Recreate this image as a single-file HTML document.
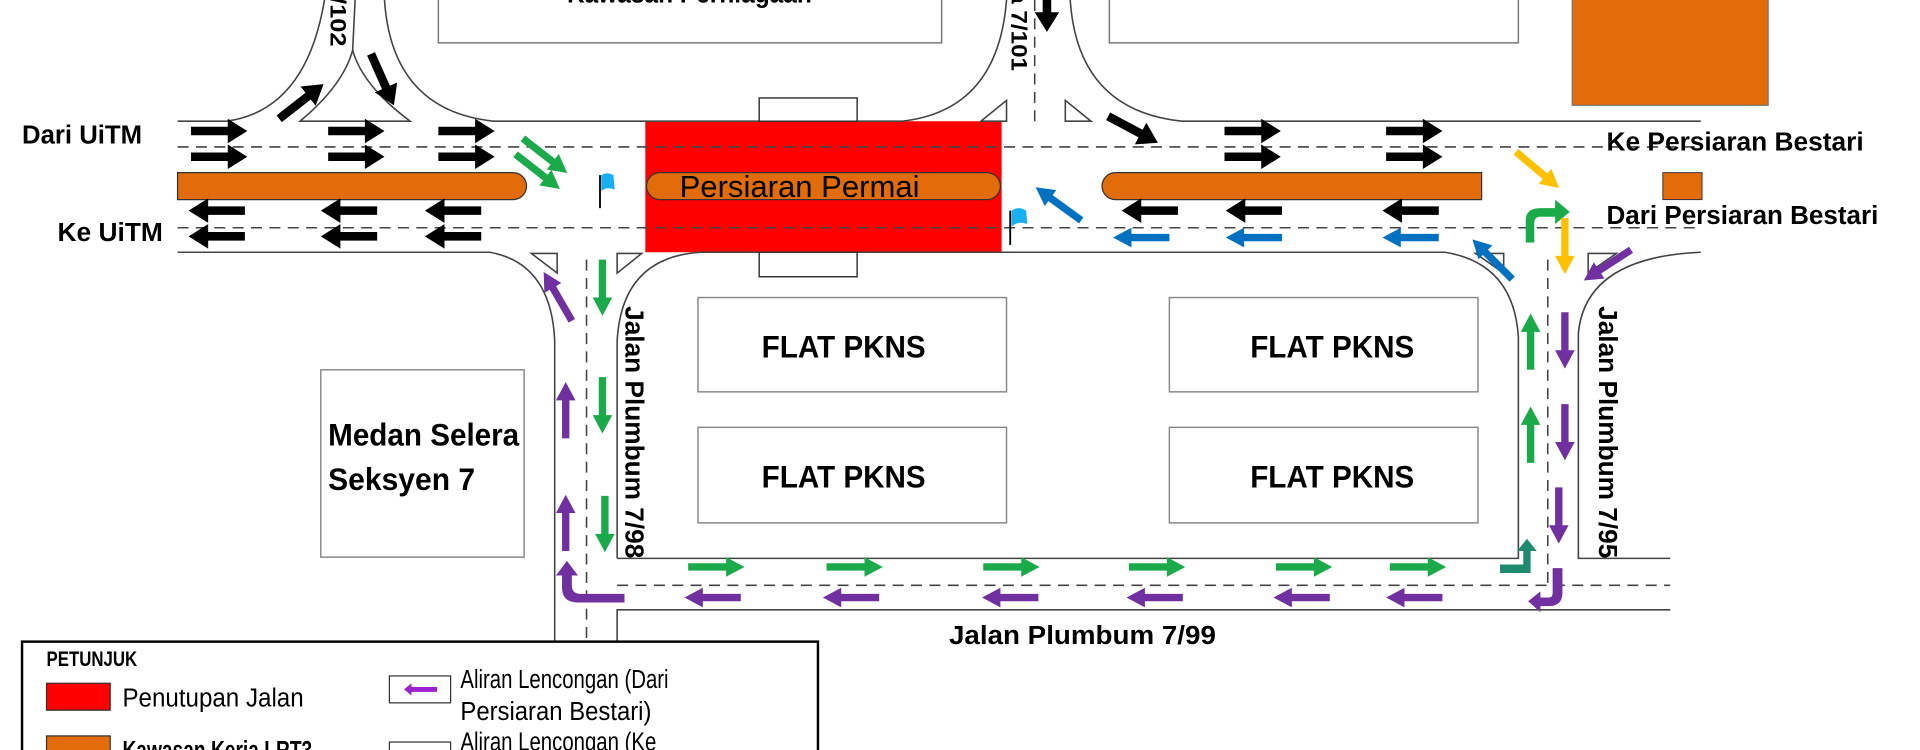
<!DOCTYPE html>
<html><head><meta charset="utf-8"><style>
html,body{margin:0;padding:0;background:#fff;}
svg{display:block;}
text{font-family:"Liberation Sans",sans-serif;font-weight:bold;fill:#000;}
</style></head><body>
<svg width="1920" height="750" viewBox="0 0 1568 612.5" preserveAspectRatio="none" xmlns="http://www.w3.org/2000/svg">
<defs>
<path id="ab" d="M0,-3.5 L30,-3.5 L30,-10 L46,0 L30,10 L30,3.5 L0,3.5Z"/>
<path id="ac" d="M0,-3 L31,-3 L31,-8 L46,0 L31,8 L31,3 L0,3Z"/>
</defs>
<rect width="1568" height="612.5" fill="#fff"/>
<rect x="358" y="-5" width="411" height="40" fill="#fff" stroke="#777" stroke-width="1.2"/>
<text x="563" y="2" font-size="22" text-anchor="middle" textLength="200" lengthAdjust="spacingAndGlyphs">Kawasan Perniagaan</text>
<rect x="906" y="-5" width="334" height="40" fill="#fff" stroke="#777" stroke-width="1.2"/>
<rect x="1284" y="-5" width="160" height="91" fill="#e36c0a" stroke="#777" stroke-width="1"/>
<rect x="527" y="99" width="291" height="107" fill="#ff0000"/>
<g fill="none" stroke="#444" stroke-width="1.3">
<path d="M145,99 L185,99 Q250,90 265,0"/>
<path d="M245,99 Q280,70 288,41 Q296,70 335,99 Z"/>
<path d="M288,41 L290,0"/>
<path d="M314,0 Q320,90 403,99 L737,99 Q815,90 822,0"/>
<path d="M874,0 Q880,90 965,99 L1389,99"/>
<path d="M145,206 L400,206 Q450,215 453,278 L453,612"/>
<path d="M504,612 L504,498 L1364,498"/>
<path d="M504,456 L504,278 Q508,210 572,206 L1180,206 Q1236,215 1240,275 L1240,456 L504,456"/>
<path d="M1389,206 Q1295,210 1289,272 L1289,456 L1364,456"/>
<path d="M801,99 L822,82 L822,99Z M870,82 L891,99 L870,99Z"/>
<path d="M434,207 L455,207 L455,223Z M524,207 L504,207 L504,223Z"/>
<path d="M1205,207 L1228,207 L1228,223Z M1320,207 L1297,207 L1297,223Z"/>
</g>
<g fill="none" stroke="#444" stroke-width="1.3" stroke-dasharray="9,6">
<path d="M145,120 L1389,120"/><path d="M145,186 L1389,186"/>
<path d="M845,0 L845,99"/>
<path d="M479,212 L479,612"/>
<path d="M1264,212 L1264,478"/>
<path d="M504,478 L1364,478"/>
</g>
<rect x="620" y="80" width="80" height="19" fill="#fff" stroke="#333" stroke-width="1.2"/>
<rect x="620" y="206" width="80" height="20" fill="#fff" stroke="#333" stroke-width="1.2"/>
<path d="M145,141 L419,141 A11,11 0 0 1 419,163 L145,163Z" fill="#e36c0a" stroke="#333" stroke-width="1"/>
<rect x="528" y="141" width="289" height="22" rx="11" fill="#e36c0a" stroke="#333" stroke-width="1"/>
<text x="555" y="161" font-size="25" style="font-weight:normal" textLength="196" lengthAdjust="spacingAndGlyphs">Persiaran Permai</text>
<path d="M1210,141 L911,141 A11,11 0 0 0 911,163 L1210,163Z" fill="#e36c0a" stroke="#333" stroke-width="1"/>
<rect x="1358" y="141" width="32" height="22" fill="#e36c0a" stroke="#333" stroke-width="0.8"/>
<g fill="#fff" stroke="#888" stroke-width="1.2">
<rect x="570" y="243" width="252" height="77"/><rect x="570" y="349" width="252" height="78"/>
<rect x="955" y="243" width="252" height="77"/><rect x="955" y="349" width="252" height="78"/>
<rect x="262" y="302" width="166" height="153"/>
</g>
<g font-size="26" text-anchor="middle">
<text x="689" y="292" textLength="134" lengthAdjust="spacingAndGlyphs">FLAT PKNS</text>
<text x="689" y="398" textLength="134" lengthAdjust="spacingAndGlyphs">FLAT PKNS</text>
<text x="1088" y="292" textLength="134" lengthAdjust="spacingAndGlyphs">FLAT PKNS</text>
<text x="1088" y="398" textLength="134" lengthAdjust="spacingAndGlyphs">FLAT PKNS</text>
</g>
<text x="268" y="364" font-size="26" textLength="156" lengthAdjust="spacingAndGlyphs">Medan Selera</text>
<text x="268" y="400" font-size="26" textLength="120" lengthAdjust="spacingAndGlyphs">Seksyen 7</text>
<g font-size="21">
<text x="18" y="117" textLength="98" lengthAdjust="spacingAndGlyphs">Dari UiTM</text>
<text x="47" y="197" textLength="86" lengthAdjust="spacingAndGlyphs">Ke UiTM</text>
<text x="1312" y="123" textLength="210" lengthAdjust="spacingAndGlyphs">Ke Persiaran Bestari</text>
<text x="1312" y="183" textLength="222" lengthAdjust="spacingAndGlyphs">Dari Persiaran Bestari</text>
<text x="775" y="526" textLength="218" lengthAdjust="spacingAndGlyphs">Jalan Plumbum 7/99</text>
<text transform="translate(511,250) rotate(90)" textLength="206" lengthAdjust="spacingAndGlyphs">Jalan Plumbum 7/98</text>
<text transform="translate(1306,250) rotate(90)" textLength="206" lengthAdjust="spacingAndGlyphs">Jalan Plumbum 7/95</text>
<text transform="translate(270,-14) rotate(90)" font-size="18" textLength="52" lengthAdjust="spacingAndGlyphs">7/102</text>
<text transform="translate(826,-8) rotate(90)" font-size="18" textLength="66" lengthAdjust="spacingAndGlyphs">a 7/101</text>
</g>
<g fill="#000">
<use href="#ab" transform="translate(156,107)"/><use href="#ab" transform="translate(156,128)"/>
<use href="#ab" transform="translate(268,107)"/><use href="#ab" transform="translate(268,128)"/>
<use href="#ab" transform="translate(358,107)"/><use href="#ab" transform="translate(358,128)"/>
<use href="#ab" transform="translate(1000,107)"/><use href="#ab" transform="translate(1000,128)"/>
<use href="#ab" transform="translate(1132,107)"/><use href="#ab" transform="translate(1132,128)"/>
<use href="#ab" transform="translate(200,172) rotate(180)"/><use href="#ab" transform="translate(200,193) rotate(180)"/>
<use href="#ab" transform="translate(308,172) rotate(180)"/><use href="#ab" transform="translate(308,193) rotate(180)"/>
<use href="#ab" transform="translate(393,172) rotate(180)"/><use href="#ab" transform="translate(393,193) rotate(180)"/>
<use href="#ab" transform="translate(962,172) rotate(180)"/>
<use href="#ab" transform="translate(1047,172) rotate(180)"/>
<use href="#ab" transform="translate(1175,172) rotate(180)"/>
<use href="#ab" transform="translate(228,97) rotate(-38)"/>
<use href="#ab" transform="translate(303,44) rotate(66)"/>
<use href="#ab" transform="translate(855,-20) rotate(90)"/>
<use href="#ab" transform="translate(905,95) rotate(28)"/>
</g>
<g fill="#0070c0">
<use href="#ac" transform="translate(955,194) rotate(180)"/>
<use href="#ac" transform="translate(1047,194) rotate(180)"/>
<use href="#ac" transform="translate(1175,194) rotate(180)"/>
<use href="#ac" transform="translate(883,180) rotate(-144)"/>
<use href="#ac" transform="translate(1235,228) rotate(-135)"/>
</g>
<g fill="#1aaa4a">
<use href="#ac" transform="translate(427,113) rotate(38)"/>
<use href="#ac" transform="translate(421,126) rotate(38)"/>
<use href="#ac" transform="translate(492,212) rotate(90)"/>
<use href="#ac" transform="translate(492,308) rotate(90)"/>
<use href="#ac" transform="translate(494,405) rotate(90)"/>
<use href="#ac" transform="translate(1250,302) rotate(-90)"/>
<use href="#ac" transform="translate(1250,378) rotate(-90)"/>
<use href="#ac" transform="translate(562,463)"/><use href="#ac" transform="translate(675,463)"/>
<use href="#ac" transform="translate(803,463)"/><use href="#ac" transform="translate(922,463)"/>
<use href="#ac" transform="translate(1042,463)"/><use href="#ac" transform="translate(1135,463)"/>
<path d="M1246,198 L1246,180 Q1246,170 1258,170 L1270,170 L1270,163 L1282,173 L1270,183 L1270,177 L1258,177 Q1253,177 1253,182 L1253,198Z"/>
</g>
<path d="M1225,461 L1244,461 L1244,450 L1239,450 L1247,440 L1255,450 L1250,450 L1250,468 L1225,468Z" fill="#1f8a70"/>
<g fill="#ffc000">
<use href="#ac" transform="translate(1238,124) rotate(40)"/>
<use href="#ac" transform="translate(1278,178) rotate(90)"/>
</g>
<g fill="#7030a0">
<use href="#ac" transform="translate(1332,204) rotate(147)"/>
<use href="#ac" transform="translate(467,262) rotate(-120)"/>
<use href="#ac" transform="translate(462,358) rotate(-90)"/>
<use href="#ac" transform="translate(462,450) rotate(-90)"/>
<use href="#ac" transform="translate(1278,255) rotate(90)"/>
<use href="#ac" transform="translate(1278,330) rotate(90)"/>
<use href="#ac" transform="translate(1273,398) rotate(90)"/>
<use href="#ac" transform="translate(605,488) rotate(180)"/><use href="#ac" transform="translate(718,488) rotate(180)"/>
<use href="#ac" transform="translate(848,488) rotate(180)"/><use href="#ac" transform="translate(966,488) rotate(180)"/>
<use href="#ac" transform="translate(1086,488) rotate(180)"/><use href="#ac" transform="translate(1178,488) rotate(180)"/>
<path d="M510,485 L510,492 L472,492 Q459,492 459,480 L459,470 L454,470 L463,458 L472,470 L467,470 L467,478 Q467,485 474,485Z"/>
<path d="M1268,464 L1276,464 L1276,484 Q1276,495 1265,495 L1258,495 L1258,500 L1248,491 L1258,483 L1258,488 L1265,488 Q1268,488 1268,484Z"/>
</g>
<g>
<line x1="490" y1="143" x2="490" y2="170" stroke="#000" stroke-width="1.5"/>
<path d="M491,143 Q496,140 501,143 L502,155 Q496,152 491,156Z" fill="#1ab0f0"/>
<line x1="825" y1="172" x2="825" y2="200" stroke="#000" stroke-width="1.5"/>
<path d="M826,172 Q832,168 838,172 L839,183 Q832,180 826,185Z" fill="#1ab0f0"/>
</g>
<rect x="18" y="524" width="650" height="100" fill="#fff" stroke="#000" stroke-width="2"/>
<text x="38" y="544" font-size="17" textLength="74" lengthAdjust="spacingAndGlyphs">PETUNJUK</text>
<rect x="38" y="558" width="52" height="22" fill="#ff0000" stroke="#333" stroke-width="1"/>
<text x="100" y="577" font-size="21" style="font-weight:normal" textLength="148" lengthAdjust="spacingAndGlyphs">Penutupan Jalan</text>
<rect x="38" y="601" width="52" height="22" fill="#e36c0a" stroke="#333" stroke-width="1"/>
<text x="100" y="620" font-size="21" textLength="155" lengthAdjust="spacingAndGlyphs">Kawasan Kerja LRT3</text>
<rect x="318" y="552" width="50" height="22" fill="#fff" stroke="#333" stroke-width="1"/>
<path d="M330,563 L336,558 L336,561 L357,561 L357,565 L336,565 L336,568Z" fill="#9b20d0"/>
<text x="376" y="562" font-size="21" style="font-weight:normal" textLength="170" lengthAdjust="spacingAndGlyphs">Aliran Lencongan (Dari</text>
<text x="376" y="588" font-size="21" style="font-weight:normal" textLength="156" lengthAdjust="spacingAndGlyphs">Persiaran Bestari)</text>
<rect x="318" y="606" width="50" height="22" fill="#fff" stroke="#333" stroke-width="1"/>
<text x="376" y="613" font-size="21" style="font-weight:normal" textLength="160" lengthAdjust="spacingAndGlyphs">Aliran Lencongan (Ke</text>
</svg>
</body></html>
